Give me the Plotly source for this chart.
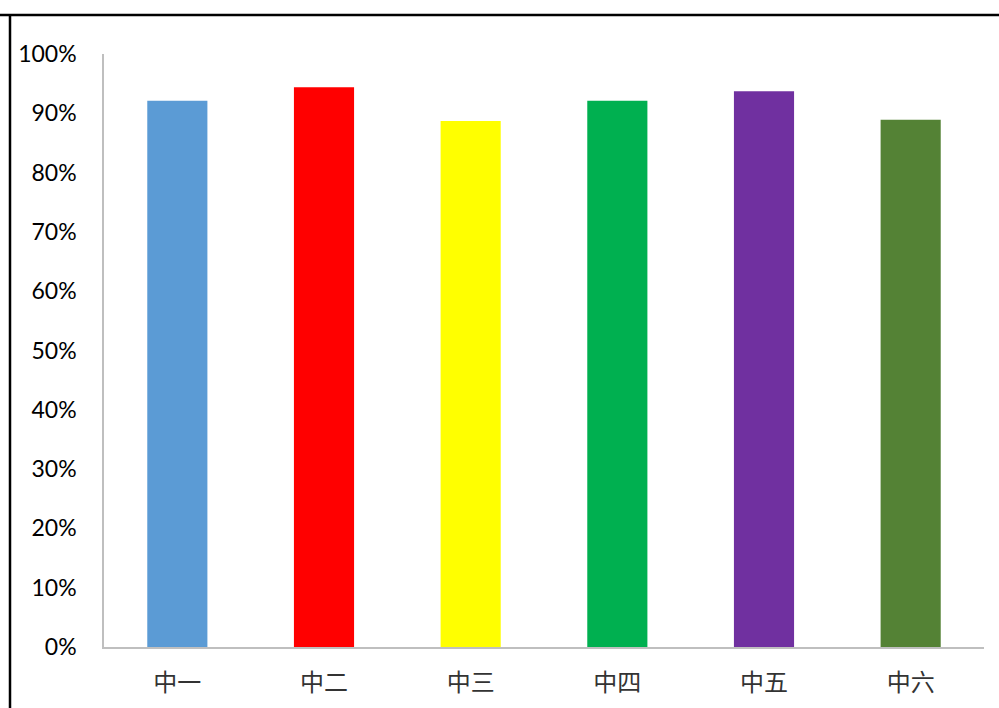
import plotly.graph_objects as go

categories = ["中一", "中二", "中三", "中四", "中五", "中六"]
values = [0.921, 0.944, 0.887, 0.921, 0.937, 0.889]
colors = ["#5B9BD5", "#FF0000", "#FFFF00", "#00B050", "#7030A0", "#548235"]
y_ticks = [i / 10 for i in range(11)]
y_tick_labels = [f"{i * 10}%" for i in range(11)]

fig = go.Figure(
    go.Bar(
        x=categories,
        y=values,
        marker=dict(color=colors, line=dict(width=0)),
        hoverinfo="x+y",
    )
)

fig.update_layout(
    width=999,
    height=708,
    margin=dict(l=104, r=15, t=54, b=61),
    paper_bgcolor="white",
    plot_bgcolor="white",
    bargap=0.59,
    showlegend=False,
    font=dict(family="Lato, Liberation Sans, sans-serif", color="#000000"),
    shapes=[
        dict(type="line", xref="paper", yref="paper", x0=-110 / 880, x1=1.1,
             y0=632 / 593, y1=632 / 593,
             line=dict(color="black", width=2.5)),
        dict(type="line", xref="paper", yref="paper", x0=-94 / 880, x1=-94 / 880,
             y0=633 / 593, y1=-0.2,
             line=dict(color="black", width=2.5)),
    ],
)

fig.update_yaxes(
    range=[0, 1],
    tickvals=y_ticks,
    ticktext=y_tick_labels,
    showgrid=False,
    zeroline=False,
    showline=True,
    linecolor="#BFBFBF",
    linewidth=1.5,
    ticks="",
    automargin=False,
    ticklabelstandoff=21,
    tickfont=dict(size=23, family="Lato, Liberation Sans, sans-serif", color="#000000"),
)

fig.update_xaxes(
    showgrid=False,
    showline=True,
    linecolor="#BFBFBF",
    linewidth=1.5,
    ticks="",
    automargin=False,
    ticklabelstandoff=13,
    tickfont=dict(size=24, family="Noto Sans CJK SC", color="#333333"),
)

fig.write_html(
    "out.html",
    config={"displayModeBar": False},
    post_script="document.body.style.margin='0';document.body.style.overflow='hidden';",
)
